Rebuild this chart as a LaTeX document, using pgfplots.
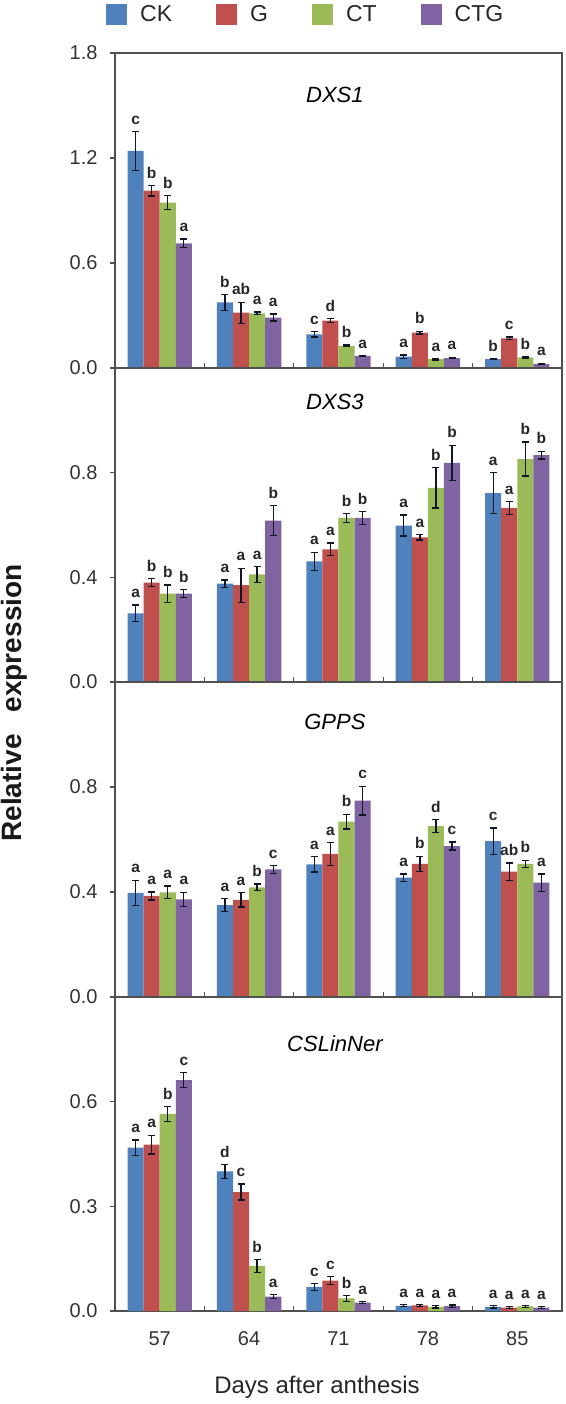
\documentclass[border=0pt]{standalone}
\usepackage{fontspec}
\setmainfont{Liberation Sans}
\usepackage{pgfplots}
\usepackage{pgfplotstable}
\pgfplotsset{compat=1.18}

\definecolor{ckc}{HTML}{4F81BD}
\definecolor{gc}{HTML}{C0504D}
\definecolor{ctc}{HTML}{9BBB59}
\definecolor{ctgc}{HTML}{8064A2}
\definecolor{errc}{HTML}{101828}
\definecolor{framec}{HTML}{505050}

\newcommand\tickfont{\fontsize{20bp}{23bp}\selectfont}
\newcommand\lblfont{\fontsize{15.5bp}{17bp}\selectfont\bfseries}
\newcommand\titfont{\fontsize{22bp}{26bp}\selectfont\itshape}
\newcommand\legfont{\fontsize{23bp}{27bp}\selectfont}

\pgfplotstableread{
g ck eck lck gg egg lgg ct ect lct ctg ectg lctg
0 1.240 0.110 c 1.013 0.030 b 0.945 0.040 b 0.712 0.025 a
1 0.375 0.045 b 0.316 0.060 ab 0.312 0.008 a 0.288 0.020 a
2 0.192 0.015 c 0.270 0.012 d 0.126 0.005 b 0.069 0.003 a
3 0.065 0.010 a 0.202 0.008 b 0.050 0.004 a 0.057 0.004 a
4 0.051 0.004 b 0.169 0.008 c 0.061 0.004 b 0.023 0.004 a
}\dxsone
\pgfplotstableread{
g ck eck lck gg egg lgg ct ect lct ctg ectg lctg
0 0.262 0.032 a 0.380 0.016 b 0.338 0.033 b 0.338 0.015 b
1 0.376 0.014 a 0.370 0.065 a 0.411 0.030 a 0.617 0.057 b
2 0.461 0.035 a 0.507 0.024 a 0.627 0.017 b 0.627 0.025 b
3 0.598 0.040 a 0.553 0.010 a 0.742 0.077 b 0.837 0.068 b
4 0.722 0.078 a 0.665 0.025 a 0.852 0.065 b 0.867 0.015 b
}\dxsthree
\pgfplotstableread{
g ck eck lck gg egg lgg ct ect lct ctg ectg lctg
0 0.397 0.048 a 0.385 0.015 a 0.399 0.024 a 0.372 0.027 a
1 0.350 0.024 a 0.370 0.027 a 0.418 0.013 b 0.486 0.015 c
2 0.505 0.029 a 0.545 0.043 a 0.668 0.028 b 0.748 0.055 c
3 0.455 0.014 a 0.507 0.029 b 0.651 0.024 d 0.575 0.015 c
4 0.594 0.050 c 0.478 0.033 ab 0.507 0.014 b 0.436 0.033 a
}\gpps
\pgfplotstableread{
g ck eck lck gg egg lgg ct ect lct ctg ectg lctg
0 0.468 0.022 a 0.477 0.027 a 0.565 0.021 b 0.662 0.021 c
1 0.400 0.020 d 0.341 0.023 c 0.129 0.019 b 0.041 0.006 a
2 0.069 0.010 c 0.087 0.011 c 0.036 0.008 b 0.024 0.003 a
3 0.015 0.003 a 0.016 0.003 a 0.012 0.003 a 0.014 0.003 a
4 0.012 0.003 a 0.010 0.003 a 0.013 0.003 a 0.010 0.003 a
}\cslin

% #1 table, #2 colour, #3 offset, #4 value col, #5 error col, #6 label col
\newcommand{\series}[6]{%
  \addplot[ybar, bar width=0.18, bar shift=0pt, fill=#2, draw=none,
    legend image code/.code={\fill[#2] (0bp,-10.5bp) rectangle (21bp,10.5bp);},
    error bars/.cd, y dir=both, y explicit, error mark=-,
    error bar style={line width=1.3bp, color=errc},
    error mark options={rotate=90, line width=1.3bp, mark size=3.5bp, color=errc}]
    table[x expr=\thisrow{g}#3, y=#4, y error=#5] {#1};
  \addplot[forget plot, draw=none, mark=none, nodes near coords,
    point meta=explicit symbolic,
    nodes near coords style={anchor=south, font=\lblfont, text=black!85, inner sep=2bp, yshift=5bp}]
    table[x expr=\thisrow{g}#3, y expr=\thisrow{#4}+\thisrow{#5}, meta=#6] {#1};
}
\newcommand{\allseries}[1]{%
  \series{#1}{ckc}{-0.27}{ck}{eck}{lck}
  \series{#1}{gc}{-0.09}{gg}{egg}{lgg}
  \series{#1}{ctc}{+0.09}{ct}{ect}{lct}
  \series{#1}{ctgc}{+0.27}{ctg}{ectg}{lctg}
}

\pgfplotsset{
  panel/.style={
    scale only axis, width=447bp, xmin=-0.5, xmax=4.5, ymin=0,
    enlargelimits=false, clip=false,
    axis line style={framec, line width=1.3bp},
    tick pos=left,
    xtick={0.5,1.5,2.5,3.5}, xticklabels={},
    major tick length=5bp,
    every tick/.style={framec, line width=1.2bp},
    ytick style={xshift=-5bp},
    yticklabel style={font=\tickfont, text=black!80, xshift=-14bp},
    anchor=south west,
  },
}

\begin{document}
\begin{tikzpicture}
\useasboundingbox (-115bp,-93bp) rectangle (451bp,1311bp);

% Panel 1: DXS1
\begin{axis}[panel, at={(0bp,943bp)}, height=315bp, ymax=1.8,
  ytick={0,0.6,1.2,1.8}, yticklabels={0.0,0.6,1.2,1.8},
  legend entries={CK,G,CT,CTG},
  legend style={at={(axis description cs:0,1)}, anchor=south west,
    xshift=-9bp, yshift=28bp, draw=none, fill=none, font=\legfont,
    text=black!85, legend columns=-1, inner sep=0pt,
    /tikz/every odd column/.append style={column sep=11bp},
    /tikz/every even column/.append style={column sep=42bp}}]
\allseries{\dxsone}
\node[font=\titfont] at (rel axis cs:0.492,0.867) {DXS1};
\end{axis}

% Panel 2: DXS3
\begin{axis}[panel, at={(0bp,629bp)}, height=314bp, ymax=1.2,
  ytick={0,0.4,0.8}, yticklabels={0.0,0.4,0.8}]
\allseries{\dxsthree}
\node[font=\titfont] at (rel axis cs:0.492,0.892) {DXS3};
\end{axis}

% Panel 3: GPPS
\begin{axis}[panel, at={(0bp,314bp)}, height=315bp, ymax=1.2,
  ytick={0,0.4,0.8}, yticklabels={0.0,0.4,0.8}]
\allseries{\gpps}
\node[font=\titfont] at (rel axis cs:0.492,0.873) {GPPS};
\end{axis}

% Panel 4: CSLinNer
\begin{axis}[panel, at={(0bp,0bp)}, height=314bp, ymax=0.9,
  ytick={0,0.3,0.6}, yticklabels={0.0,0.3,0.6},
  extra x ticks={0,1,2,3,4}, extra x tick labels={57,64,71,78,85},
  extra x tick style={major tick length=0pt,
    xticklabel style={font=\tickfont, text=black!80, yshift=-17bp}}]
\allseries{\cslin}
\node[font=\titfont] at (rel axis cs:0.492,0.853) {CSLinNer};
\node[font=\fontsize{24bp}{28bp}\selectfont, text=black!85] at (axis description cs:0.452,0) [yshift=-76bp] {Days after anthesis};
\end{axis}

\node[rotate=90, font=\fontsize{28bp}{32bp}\selectfont\bfseries, text=black!90] at (-101bp,608bp) {Relative\hspace{22bp}expression};
\end{tikzpicture}
\end{document}
